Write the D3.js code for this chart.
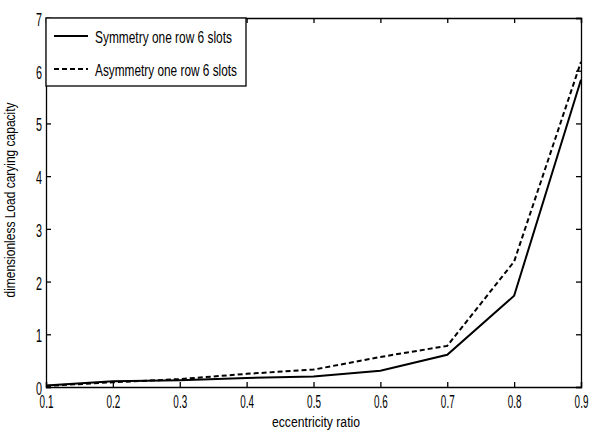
<!DOCTYPE html>
<html><head><meta charset="utf-8">
<script src="https://cdn.jsdelivr.net/npm/d3@7/dist/d3.min.js"></script>
<style>
body{margin:0;background:#fff;}
text{font-family:"Liberation Sans",Arial,sans-serif;fill:#000;}
</style></head>
<body><svg id="c" width="590" height="432"></svg>
<script>
const xValues = [0.1,0.2,0.3,0.4,0.5,0.6,0.7,0.8,0.9];
const symmetry = [0.03,0.11,0.13,0.17,0.2,0.31,0.61,1.73,5.83];
const asymmetry = [0.02,0.09,0.15,0.25,0.33,0.57,0.78,2.38,6.17];
const xTicks = [0.1,0.2,0.3,0.4,0.5,0.6,0.7,0.8,0.9];
const yTicks = [0,1,2,3,4,5,6,7];
const seriesNames = ["Symmetry one row 6 slots","Asymmetry one row 6 slots"];

const svg = d3.select("#c");
const m = {l:46, r:9, t:18, b:45};
const W = 590, H = 432;
const x = d3.scaleLinear().domain([0.1,0.9]).range([m.l, W-m.r]);
const y = d3.scaleLinear().domain([0,7]).range([H-m.b, m.t]);
const fs = 18;

function condense(sel, f){
  sel.each(function(){
    const w = this.getComputedTextLength();
    d3.select(this).attr("textLength", w*f).attr("lengthAdjust","spacingAndGlyphs");
  });
}

const g = svg.append("g");
const axB = d3.axisBottom(x).tickValues(xTicks).tickSize(-5).tickPadding(8).tickFormat(d3.format(".1f"));
const axT = d3.axisTop(x).tickValues(xTicks).tickSize(-5).tickFormat("");
const axL = d3.axisLeft(y).tickValues(yTicks).tickSize(-5).tickPadding(4).tickFormat(d3.format("d"));
const axR = d3.axisRight(y).tickValues(yTicks).tickSize(-5).tickFormat("");
function style(sel){
  sel.selectAll("path,line").attr("stroke","#000").attr("stroke-width",1.3);
  sel.selectAll("text").style("font-size",fs+"px").attr("font-family",null);
}
g.append("g").attr("transform",`translate(0,${H-m.b})`).call(axB).call(style)
  .selectAll("text").call(condense,0.55);
g.append("g").attr("transform",`translate(0,${m.t})`).call(axT).call(style);
g.append("g").attr("transform",`translate(${m.l},0)`).call(axL).call(style)
  .selectAll("text").attr("dy","0.42em").call(condense,0.6);
g.append("g").attr("transform",`translate(${W-m.r},0)`).call(axR).call(style);

const line = d3.line().x((d,i)=>x(xValues[i])).y(d=>y(d));
svg.append("path").datum(symmetry).attr("d",line).attr("fill","none").attr("stroke","#000").attr("stroke-width",2);
svg.append("path").datum(asymmetry).attr("d",line).attr("fill","none").attr("stroke","#000").attr("stroke-width",2).attr("stroke-dasharray","5,3");

const lg = svg.append("g");
lg.append("rect").attr("x",m.l).attr("y",m.t).attr("width",200).attr("height",68).attr("fill","#fff").attr("stroke","#000").attr("stroke-width",1.3);
const legW = [137,142];
seriesNames.forEach((n,i)=>{
  const yy = m.t + 18 + i*33;
  lg.append("line").attr("x1",54).attr("x2",88).attr("y1",yy).attr("y2",yy).attr("stroke","#000").attr("stroke-width",2).attr("stroke-dasharray",i?"5,3":null);
  lg.append("text").attr("x",95).attr("y",yy+6.5).style("font-size","17px")
    .attr("textLength",legW[i]).attr("lengthAdjust","spacingAndGlyphs").text(n);
});

svg.append("text").attr("x",316).attr("y",427).attr("text-anchor","middle").style("font-size","14px")
  .attr("textLength",88).attr("lengthAdjust","spacingAndGlyphs").text("eccentricity ratio");
svg.append("text").attr("transform",`translate(15,200) rotate(-90)`).attr("text-anchor","middle").style("font-size","14px")
  .attr("textLength",195).attr("lengthAdjust","spacingAndGlyphs").text("dimensionless Load carying capacity");
</script></body></html>
